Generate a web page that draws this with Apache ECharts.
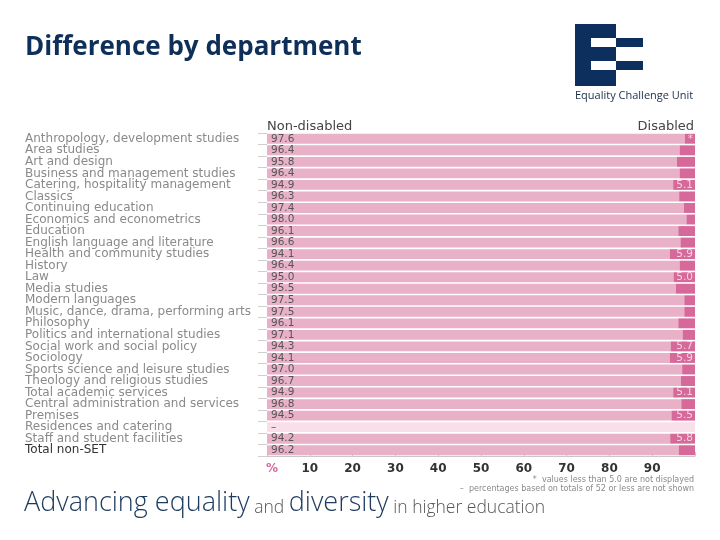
<!DOCTYPE html>
<html>
<head>
<meta charset="utf-8">
<script src="https://cdn.jsdelivr.net/npm/echarts@6/dist/echarts.min.js"></script>
<style>html,body{margin:0;padding:0;background:#fff;}#c{width:720px;height:540px;}</style>
</head>
<body>
<div id="c"></div>
<script>
const categories = [
  'Anthropology, development studies','Area studies','Art and design','Business and management studies',
  'Catering, hospitality management','Classics','Continuing education','Economics and econometrics',
  'Education','English language and literature','Health and community studies','History','Law',
  'Media studies','Modern languages','Music, dance, drama, performing arts','Philosophy',
  'Politics and international studies','Social work and social policy','Sociology',
  'Sports science and leisure studies','Theology and religious studies','Total academic services',
  'Central administration and services','Premises','Residences and catering',
  'Staff and student facilities','Total non-SET'
];
const nonDisabled = [97.6,96.4,95.8,96.4,94.9,96.3,97.4,98.0,96.1,96.6,94.1,96.4,95.0,95.5,97.5,97.5,96.1,97.1,94.3,94.1,97.0,96.7,94.9,96.8,94.5,null,94.2,96.2];
const disabled = [2.4,3.6,4.2,3.6,5.1,3.7,2.6,2.0,3.9,3.4,5.9,3.6,5.0,4.5,2.5,2.5,3.9,2.9,5.7,5.9,3.0,3.3,5.1,3.2,5.5,null,5.8,3.8];
const disabledLabels = ['*','','','','5.1','','','','','','5.9','','5.0','','','','','','5.7','5.9','','','5.1','','5.5','','5.8',''];
const suppressed = [null,null,null,null,null,null,null,null,null,null,null,null,null,null,null,null,null,null,null,null,null,null,null,null,null,100,null,null];
const xTicks = [0,10,20,30,40,50,60,70,80,90,100];

const chart = echarts.init(document.getElementById('c'), null, {renderer:'canvas'});
const labelStyle = {align:'left', fontFamily:'DejaVu Sans', fontSize:12, color:'#8a8a8a'};
const catData = categories.map(c => c === 'Total non-SET'
  ? {value:c, textStyle:Object.assign({}, labelStyle, {color:'#333'})} : c);

chart.setOption({
  animation:false,
  backgroundColor:'#fff',
  title:{
    text:'Difference by department', left:25, top:35, padding:0,
    textStyle:{fontFamily:'Open Sans', fontWeight:'bold', fontSize:26, color:'#0d2f5a'}
  },
  grid:{left:267, right:25, top:133, bottom:84, containLabel:false, outerBoundsMode:'none'},
  xAxis:{
    type:'value', min:0, max:100, interval:10,
    axisLine:{show:true, lineStyle:{color:'#c8c8c8'}},
    axisTick:{show:true, inside:true, length:4, lineStyle:{color:'#c8c8c8'}},
    splitLine:{show:false},
    axisLabel:{
      margin:7, fontFamily:'DejaVu Sans', fontWeight:'bold', fontSize:12, color:'#333',
      formatter: v => v === 0 ? '{p|%}' : (v === 100 ? '' : String(v)),
      rich:{p:{color:'#d6679a', fontWeight:'bold', fontSize:12, fontFamily:'DejaVu Sans', padding:[0,0,0,10]}}
    }
  },
  yAxis:{
    type:'category', inverse:true, data:catData,
    axisLine:{show:false},
    axisTick:{show:true, length:9, lineStyle:{color:'#cfcfcf'}},
    axisLabel:Object.assign({interval:0, margin:242}, labelStyle)
  },
  series:[
    {
      name:'Non-disabled', type:'bar', stack:'a', data:nonDisabled, barCategoryGap:'14%',
      itemStyle:{color:'#e8b1c7'},
      label:{show:true, position:'insideLeft', distance:4, fontFamily:'DejaVu Sans', fontSize:10.5, color:'#555',
        formatter: p => p.value == null ? '' : Number(p.value).toFixed(1)}
    },
    {
      name:'Disabled', type:'bar', stack:'a', data:disabled,
      itemStyle:{color:'#d6689a'},
      label:{show:true, position:'insideRight', distance:2, fontFamily:'DejaVu Sans', fontSize:10.5, color:'#f7d3e2',
        formatter: p => disabledLabels[p.dataIndex]}
    },
    {
      name:'Not shown', type:'bar', stack:'a', data:suppressed,
      itemStyle:{color:'#f8dfe9'},
      label:{show:true, position:'insideLeft', distance:4, fontFamily:'DejaVu Sans', fontSize:10.5, color:'#555',
        formatter: p => p.value == null ? '' : '–'}
    }
  ],
  graphic:[
    {type:'text', left:267, top:120, style:{text:'Non-disabled', font:'13px "DejaVu Sans"', fill:'#444'}},
    {type:'text', right:26, top:120, style:{text:'Disabled', font:'13px "DejaVu Sans"', fill:'#444', textAlign:'right'}},
    {type:'text', right:26, top:476, style:{text:'*  values less than 5.0 are not displayed', font:'8px "DejaVu Sans"', fill:'#8a8a8a', textAlign:'right'}},
    {type:'text', right:26, top:485, style:{text:'–  percentages based on totals of 52 or less are not shown', font:'8px "DejaVu Sans"', fill:'#8a8a8a', textAlign:'right'}},
    {type:'text', left:24, top:490, style:{
      text:'{a|Advancing equality}{b| and }{a|diversity}{b| in higher education}',
      rich:{
        a:{fontFamily:'Open Sans', fontWeight:300, fontSize:27, fill:'#1c3a5e', verticalAlign:'bottom'},
        b:{fontFamily:'Open Sans', fontWeight:300, fontSize:17.5, fill:'#555', verticalAlign:'bottom'}
      }
    }},
    // ECU logo
    {type:'rect', shape:{x:575, y:24, width:41, height:62}, style:{fill:'#0d2f5e'}},
    {type:'rect', shape:{x:591, y:38, width:25, height:9}, style:{fill:'#fff'}},
    {type:'rect', shape:{x:591, y:61, width:25, height:9}, style:{fill:'#fff'}},
    {type:'rect', shape:{x:616, y:38, width:27, height:9}, style:{fill:'#0d2f5e'}},
    {type:'rect', shape:{x:616, y:61, width:27, height:9}, style:{fill:'#0d2f5e'}},
    {type:'text', left:575, top:90, style:{text:'Equality Challenge Unit', font:'11px "Open Sans"', fill:'#1c2f4a'}}
  ]
});
</script>
</body>
</html>
